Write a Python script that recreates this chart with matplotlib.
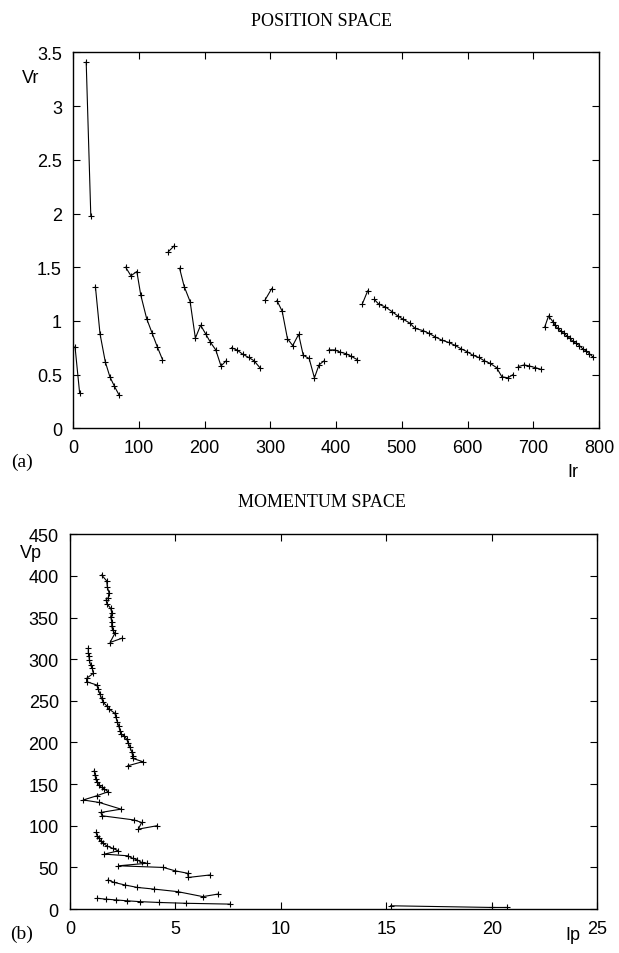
import matplotlib
matplotlib.use("Agg")
import matplotlib.pyplot as plt

# === DATA: position space (Ir, Vr), one list per connected run ===
pos_ir = [
    [3, 10],
    [20, 27],
    [34, 41, 49, 56, 63, 70],
    [80, 88, 97, 103, 112, 120, 128, 136],
    [145, 154],
    [162, 169, 178, 186, 194, 202, 209, 217, 225, 233],
    [241, 249, 258, 267, 275, 284],
    [292, 302],
    [310, 318, 326, 334, 343, 350, 359, 367, 374, 382],
    [389, 398, 406, 415, 423, 432],
    [440, 448],
    [458, 465, 475, 485, 494, 502, 512, 520, 532, 541, 551, 561, 571, 580,
     590, 599, 608, 617, 625, 634, 644, 652, 661, 669],
    [677, 686, 694, 703, 711],
    [717, 723, 730, 733, 737, 742, 746, 751, 755, 760, 765, 770, 775, 780,
     785, 790],
]
pos_vr = [
    [0.76, 0.33],
    [3.41, 1.98],
    [1.32, 0.88, 0.62, 0.48, 0.39, 0.31],
    [1.50, 1.42, 1.46, 1.24, 1.02, 0.89, 0.76, 0.64],
    [1.645, 1.70],
    [1.49, 1.32, 1.18, 0.84, 0.96, 0.875, 0.80, 0.73, 0.58, 0.63],
    [0.75, 0.73, 0.69, 0.66, 0.63, 0.565],
    [1.195, 1.30],
    [1.19, 1.09, 0.835, 0.77, 0.875, 0.68, 0.65, 0.47, 0.59, 0.63],
    [0.73, 0.73, 0.71, 0.695, 0.67, 0.64],
    [1.16, 1.28],
    [1.20, 1.155, 1.13, 1.086, 1.046, 1.015, 0.98, 0.93, 0.91, 0.885, 0.85,
     0.82, 0.80, 0.775, 0.74, 0.714, 0.68, 0.66, 0.63, 0.605, 0.565, 0.48,
     0.47, 0.50],
    [0.575, 0.59, 0.58, 0.565, 0.55],
    [0.94, 1.046, 0.99, 0.96, 0.93, 0.905, 0.885, 0.86, 0.84, 0.81, 0.79,
     0.77, 0.74, 0.72, 0.695, 0.667],
]

# === DATA: momentum space (Ip, Vp) ===
mom_ip = [
    [1.50, 1.74, 1.77, 1.85, 1.82, 1.71, 1.77, 1.93, 1.98, 1.93, 1.98, 1.98,
     2.02, 2.13, 1.90, 2.45],
    [0.87, 0.87, 0.90, 0.92, 0.98, 1.06, 1.11, 0.79, 0.79, 1.27, 1.34, 1.42,
     1.50, 1.58, 1.74, 1.86, 2.13, 2.18, 2.24, 2.31, 2.37, 2.42, 2.56, 2.69,
     2.77, 2.85, 2.93, 2.97, 2.97, 3.45, 2.74],
    [1.15, 1.19, 1.22, 1.30, 1.39, 1.50, 1.63, 1.82, 1.27, 0.63, 1.39, 2.42,
     1.46, 1.53, 3.04, 3.40, 3.24, 4.11],
    [1.23, 1.30, 1.38, 1.45, 1.58, 1.74, 2.02, 2.30, 1.63, 2.74, 2.97, 3.20,
     3.40, 3.64, 2.30, 4.43, 4.98, 5.58, 5.61, 6.64],
    [1.8, 2.1, 2.6, 3.2, 4.0, 5.1, 6.3, 7.0],
    [1.3, 1.7, 2.2, 2.7, 3.3, 4.2, 5.5, 7.6],
    [15.2, 20.0, 20.7],
]
mom_vp = [
    [401, 394, 387, 380, 374, 371, 366, 361, 356, 351, 345, 340, 335, 331,
     320, 325],
    [313, 308, 304, 299, 293, 289, 283, 277, 273, 269, 264, 258, 253, 248,
     244, 240, 235, 230, 225, 220, 214, 210, 208, 204, 199, 194, 189, 184,
     181, 177, 172],
    [166, 161, 156, 152, 149, 146, 144, 141, 136, 131, 128, 120, 116, 112,
     107, 104, 96, 100],
    [92, 88, 85, 82, 79, 76, 73, 70, 66, 64, 61, 59, 56, 55, 52, 50, 46, 43,
     38, 41],
    [35, 32, 29, 26, 24, 21, 15, 18],
    [13, 12, 11, 10, 9, 8, 7, 6],
    [4, 2, 2],
]

pos_xticks = [0, 100, 200, 300, 400, 500, 600, 700, 800]
pos_yticks = [0, 0.5, 1, 1.5, 2, 2.5, 3, 3.5]
pos_yticklabels = ["0", "0.5", "1", "1.5", "2", "2.5", "3", "3.5"]
mom_xticks = [0, 5, 10, 15, 20, 25]
mom_yticks = [0, 50, 100, 150, 200, 250, 300, 350, 400, 450]

# === STYLE ===
sans = "Liberation Sans"
serif = "Liberation Serif"
line_kw = dict(color="black", lw=0.8, marker="+", ms=5, mew=0.8)

fig = plt.figure(figsize=(6.19, 9.54), dpi=100)
ax1 = fig.add_axes([0.118, 0.550, 0.850, 0.394])
ax2 = fig.add_axes([0.113, 0.046, 0.852, 0.393])

for xs, ys in zip(pos_ir, pos_vr):
    ax1.plot(xs, ys, **line_kw)
for xs, ys in zip(mom_ip, mom_vp):
    ax2.plot(xs, ys, **line_kw)

ax1.set_xlim(0, 800)
ax1.set_ylim(0, 3.5)
ax1.set_xticks(pos_xticks)
ax1.set_yticks(pos_yticks)
ax1.set_yticklabels(pos_yticklabels)

ax2.set_xlim(0, 25)
ax2.set_ylim(0, 450)
ax2.set_xticks(mom_xticks)
ax2.set_yticks(mom_yticks)

for ax in (ax1, ax2):
    ax.tick_params(direction="in", top=True, right=True, length=5,
                   width=0.8, labelsize=13, pad=8)
    for lbl in ax.get_xticklabels() + ax.get_yticklabels():
        lbl.set_fontfamily(sans)
    for sp in ax.spines.values():
        sp.set_linewidth(1.0)

# titles and labels
fig.text(0.52, 0.977, "POSITION SPACE", ha="center", va="center",
         family=serif, fontsize=13)
fig.text(0.52, 0.473, "MOMENTUM SPACE", ha="center", va="center",
         family=serif, fontsize=13)
fig.text(0.050, 0.918, "Vr", ha="center", va="center", family=sans, fontsize=13)
fig.text(0.050, 0.420, "Vp", ha="center", va="center", family=sans, fontsize=13)
fig.text(0.925, 0.505, "Ir", ha="center", va="center", family=sans, fontsize=13)
fig.text(0.925, 0.010, "Ip", ha="center", va="bottom", family=sans, fontsize=13)
fig.text(0.035, 0.515, "(a)", ha="center", va="center", family=serif, fontsize=14)
fig.text(0.035, 0.012, "(b)", ha="center", va="bottom", family=serif, fontsize=14)

fig.savefig("out.png", dpi=100)
